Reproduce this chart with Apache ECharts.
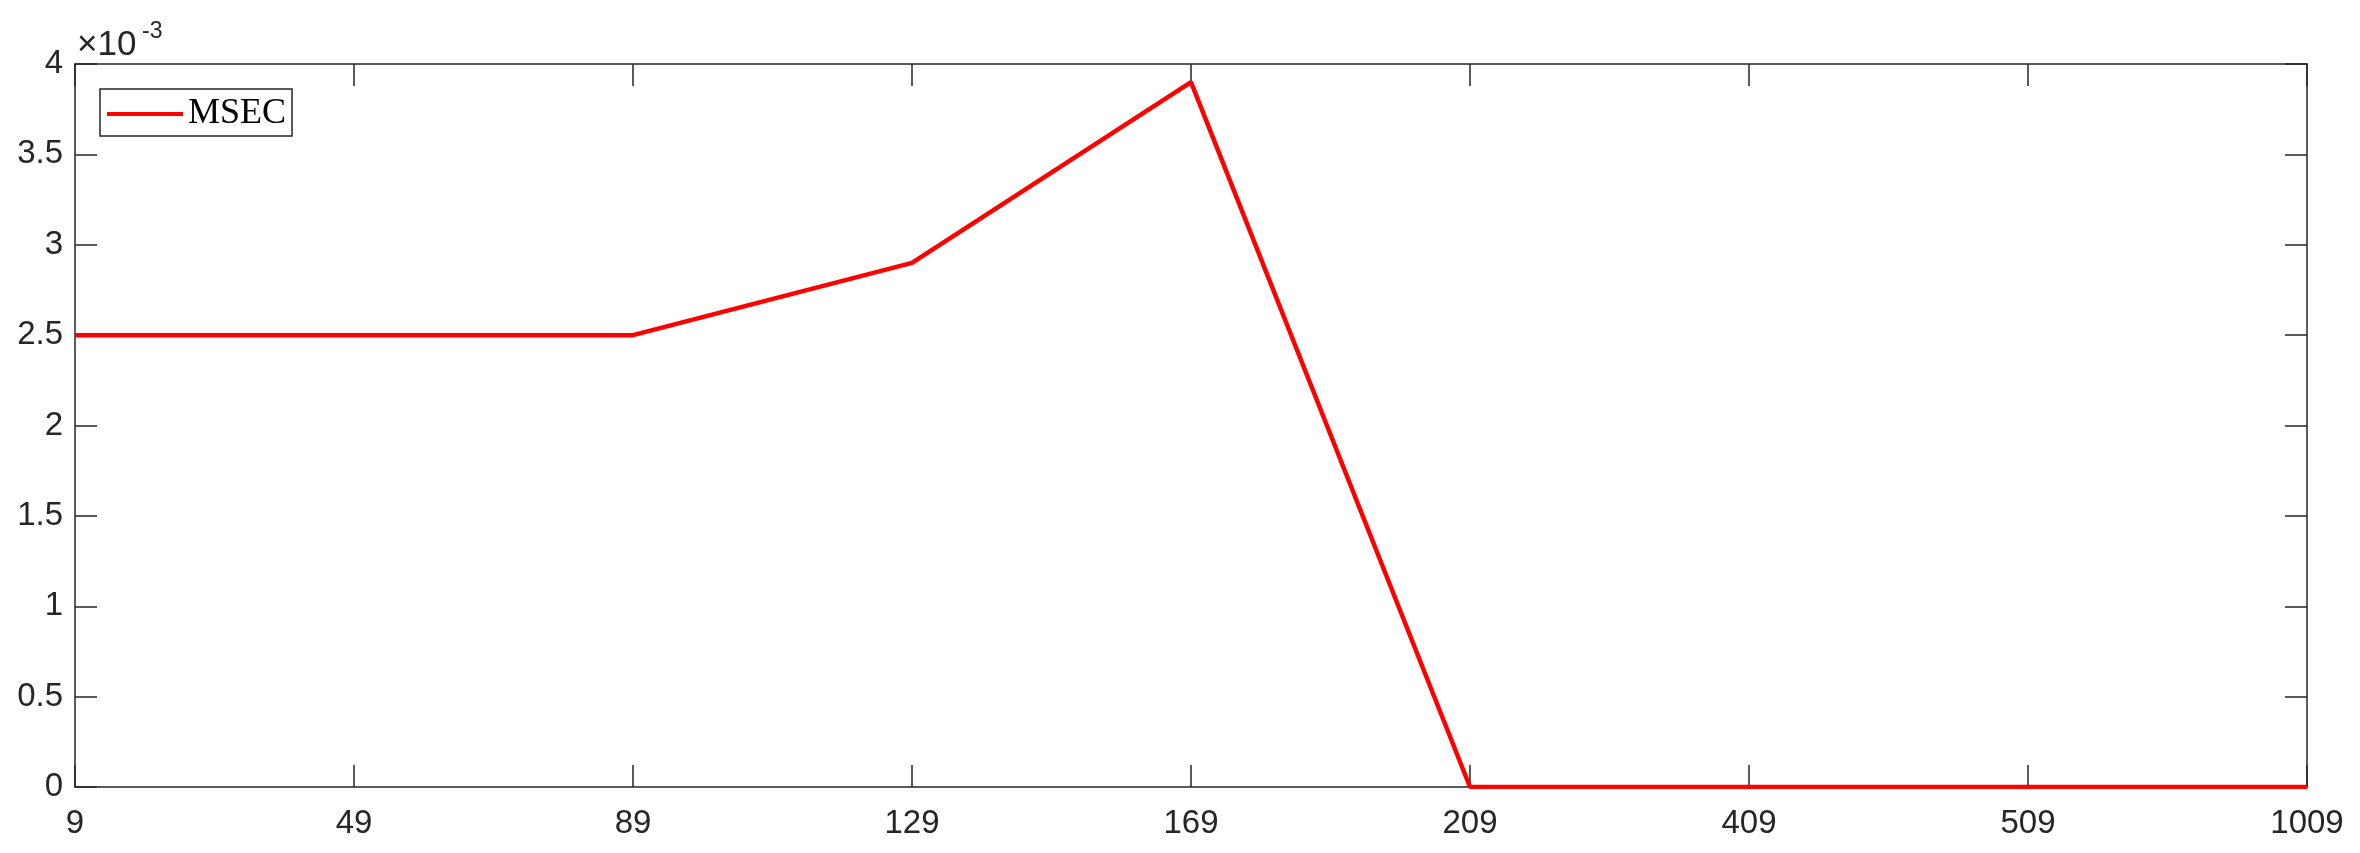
<!DOCTYPE html>
<html>
<head>
<meta charset="utf-8">
<script src="https://cdn.jsdelivr.net/npm/echarts@6/dist/echarts.min.js"></script>
<style>
  html, body { margin: 0; padding: 0; background: #fff; }
  #chart { width: 2360px; height: 853px; }
</style>
</head>
<body>
<div id="chart"></div>
<script>
// 数据
const categories = ['9', '49', '89', '129', '169', '209', '409', '509', '1009']
const msecValues = [0.0025, 0.0025, 0.0025, 0.0029, 0.0039, 0, 0, 0, 0]
const seriesName = 'MSEC'

const axisColor = '#262626'
const sansFont = '"Liberation Sans", Helvetica, Arial, sans-serif'

const chart = echarts.init(document.getElementById('chart'))

// 坐标轴公共样式（刻度朝内，MATLAB 风格框）
function axisLine() {
  return { show: true, onZero: false, lineStyle: { color: axisColor, width: 1.5 } }
}
function axisTick() {
  return { show: true, inside: true, length: 22, lineStyle: { color: axisColor, width: 1.5 } }
}

chart.setOption({
  animation: false,
  grid: { left: 75, right: 53, top: 64, bottom: 66 },
  legend: {
    left: 100,
    top: 89,
    padding: [7, 6, 4, 7],
    borderColor: axisColor,
    borderWidth: 1.5,
    backgroundColor: '#fff',
    icon: 'rect',
    itemWidth: 76,
    itemHeight: 4,
    itemGap: 0,
    textStyle: { fontFamily: '"Liberation Serif", "Times New Roman", serif', fontSize: 36, color: '#000', padding: [0, 0, 0, 0] },
    data: [seriesName]
  },
  graphic: [
    {
      type: 'text',
      style: { x: 77, y: 45, text: '×10', font: '35px ' + sansFont, fill: axisColor, verticalAlign: 'middle' }
    },
    {
      type: 'text',
      style: { x: 142, y: 32, text: '-3', font: '23px ' + sansFont, fill: axisColor, verticalAlign: 'middle' }
    }
  ],
  xAxis: [
    {
      type: 'category',
      data: categories,
      boundaryGap: false,
      axisLine: axisLine(),
      axisTick: axisTick(),
      axisLabel: { fontFamily: sansFont, fontSize: 33, color: axisColor, margin: 20 },
      splitLine: { show: false }
    },
    {
      type: 'category',
      data: categories,
      position: 'top',
      boundaryGap: false,
      axisLine: axisLine(),
      axisTick: axisTick(),
      axisLabel: { show: false },
      splitLine: { show: false }
    }
  ],
  yAxis: [
    {
      type: 'value',
      min: 0,
      max: 0.004,
      interval: 0.0005,
      position: 'left',
      axisLine: axisLine(),
      axisTick: axisTick(),
      axisLabel: {
        fontFamily: sansFont,
        fontSize: 33,
        color: axisColor,
        margin: 12,
        padding: [9, 0, 0, 0],
        formatter: v => String(Math.round(v * 10000) / 10)
      },
      splitLine: { show: false }
    },
    {
      type: 'value',
      min: 0,
      max: 0.004,
      interval: 0.0005,
      position: 'right',
      axisLine: axisLine(),
      axisTick: axisTick(),
      axisLabel: { show: false },
      splitLine: { show: false }
    }
  ],
  series: [
    {
      name: seriesName,
      type: 'line',
      data: msecValues,
      showSymbol: false,
      symbol: 'none',
      itemStyle: { color: '#ff0000' },
      lineStyle: { color: '#ff0000', width: 4.5 },
      z: 3
    }
  ]
})
</script>
</body>
</html>
